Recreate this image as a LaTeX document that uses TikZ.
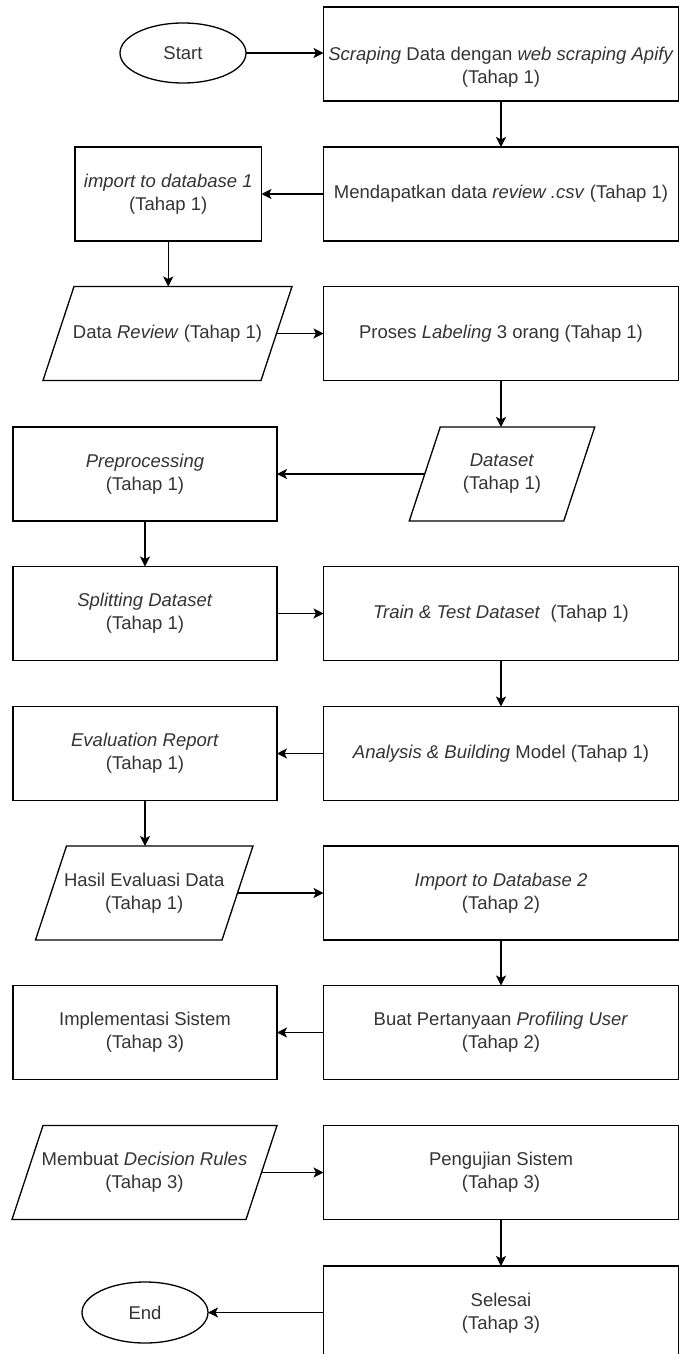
\documentclass[tikz,border=0pt]{standalone}
\usepackage{fontspec}
\setmainfont{Liberation Sans}
\usetikzlibrary{arrows.meta,calc,shapes.geometric}
\definecolor{txt}{HTML}{333333}
\newcommand{\drawpara}[1]{\draw[line width=1.3pt] (#1.south west) -- ($(#1.north west)+(31,0)$) -- (#1.north east) -- ($(#1.south east)+(-31,0)$) -- cycle;}
\begin{document}
\begin{tikzpicture}[x=1pt,y=-1pt,
  every node/.style={font=\fontsize{18.5}{23}\selectfont, text=txt, align=center, inner sep=0pt, outer sep=0pt},
  box/.style={draw=black, line width=1.3pt, rectangle, minimum width=355pt, minimum height=94pt},
  lbox/.style={box, minimum width=264pt},
  term/.style={draw=black, line width=1.3pt, ellipse, minimum width=126pt, minimum height=60pt},
  pbox/.style={rectangle, minimum height=94pt},
  arr/.style={draw=black, line width=1.3pt, -{Stealth[length=10pt,width=10pt,inset=2.5pt]}}
]
\useasboundingbox (0,0) rectangle (679,1354);
\node[term] (start) at (183,53) {Start};
\node[box] (scr) at (501,54) {\strut\\\textit{Scraping} Data dengan \textit{web scraping Apify}\\(Tahap 1)};
\node[box] (mend) at (501,194) {Mendapatkan data \textit{review .csv} (Tahap 1)};
\node[box, minimum width=186.5pt] (imp) at (168.25,194) {\textit{import to database 1}\\(Tahap 1)};
\node[pbox, minimum width=249pt] (dr) at (167.5,333.5) {Data \textit{Review} (Tahap 1)};
\node[box] (pro) at (501,333.5) {Proses \textit{Labeling} 3 orang (Tahap 1)};
\node[pbox, minimum width=185.5pt] (ds) at (502,474) {\textit{Dataset}\\(Tahap 1)};
\node[lbox] (pre) at (145,474) {\textit{Preprocessing}\\(Tahap 1)};
\node[lbox] (spl) at (145,613.5) {\textit{Splitting Dataset}\\(Tahap 1)};
\node[box] (tt) at (501,613.5) {\textit{Train \& Test Dataset}\ \ (Tahap 1)};
\node[box] (ana) at (501,753.5) {\textit{Analysis \& Building} Model (Tahap 1)};
\node[lbox] (eva) at (145,753.5) {\textit{Evaluation Report}\\(Tahap 1)};
\node[pbox, minimum width=217.5pt] (has) at (144.25,893) {Hasil Evaluasi Data\\(Tahap 1)};
\node[box] (idb) at (501,893) {\textit{Import to Database 2}\\(Tahap 2)};
\node[box] (buat) at (501,1032.5) {Buat Pertanyaan \textit{Profiling User}\\(Tahap 2)};
\node[lbox] (impl) at (145,1032.5) {Implementasi Sistem\\(Tahap 3)};
\node[pbox, minimum width=265pt] (mem) at (144.5,1172.5) {Membuat \textit{Decision Rules}\\(Tahap 3)};
\node[box] (pen) at (501,1172.5) {Pengujian Sistem\\(Tahap 3)};
\node[box] (sel) at (501,1313) {Selesai\\(Tahap 3)};
\node[term, minimum height=61pt] (endn) at (145,1312.5) {End};
\drawpara{dr}
\drawpara{ds}
\drawpara{has}
\drawpara{mem}
\draw[arr] (start.east) -- (start.east -| scr.west);
\draw[arr] (scr.south) -- (mend.north);
\draw[arr] (mend.west) -- (imp.east);
\draw[arr] (imp.south) -- (imp.south |- dr.north);
\draw[arr] ($(dr.east)+(-15.5,0)$) -- (dr.east -| pro.west);
\draw[arr] (pro.south) -- (pro.south |- ds.north);
\draw[arr] ($(ds.west)+(15.5,0)$) -- (ds.west -| pre.east);
\draw[arr] (pre.south) -- (spl.north);
\draw[arr] (spl.east) -- (tt.west);
\draw[arr] (tt.south) -- (ana.north);
\draw[arr] (ana.west) -- (eva.east);
\draw[arr] (eva.south) -- (eva.south |- has.north);
\draw[arr] ($(has.east)+(-15.5,0)$) -- (has.east -| idb.west);
\draw[arr] (idb.south) -- (buat.north);
\draw[arr] (buat.west) -- (impl.east);
\draw[arr] ($(mem.east)+(-15.5,0)$) -- (mem.east -| pen.west);
\draw[arr] (pen.south) -- (sel.north);
\draw[arr] (sel.west |- endn.east) -- (endn.east);
\end{tikzpicture}
\end{document}
